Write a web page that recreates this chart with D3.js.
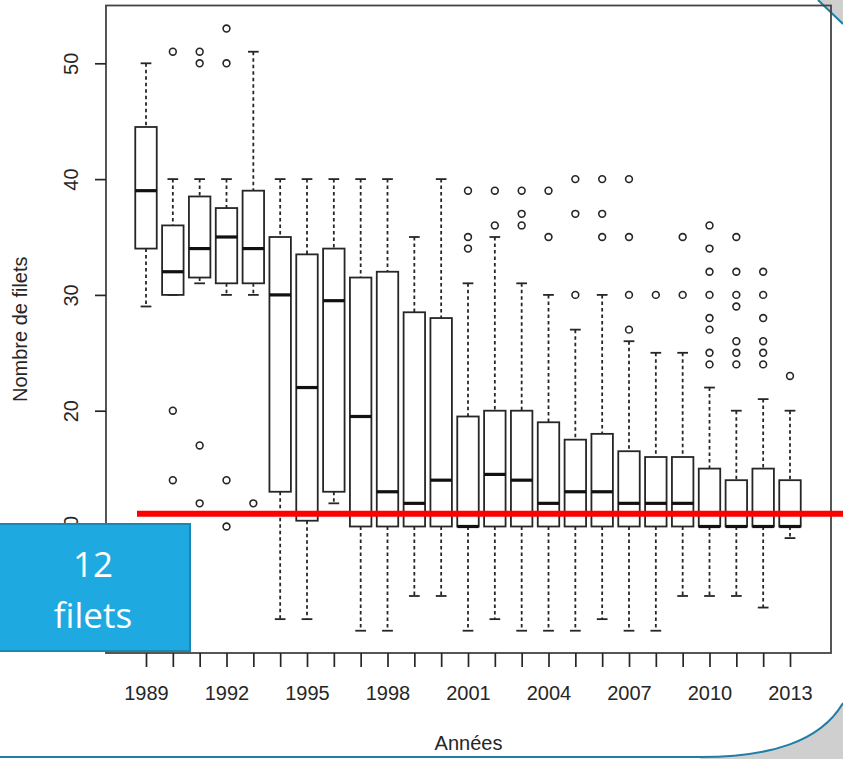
<!DOCTYPE html>
<html>
<head>
<meta charset="utf-8">
<script src="https://d3js.org/d3.v7.min.js"></script>
<style>
  html, body { margin: 0; padding: 0; background: #fff; }
  svg { display: block; }
</style>
</head>
<body>
<script>
// boxplot stats per year
var years = d3.range(1989, 2014);
var whiskerHigh = [50, 40, 40, 40, 51, 40, 40, 40, 40, 40, 35, 40, 31, 35, 31, 30, 27, 30, 26, 25, 25, 22, 20, 21, 20];
var q3 = [44.5, 36, 38.5, 37.5, 39, 35, 33.5, 34, 31.5, 32, 28.5, 28, 19.5, 20, 20, 19, 17.5, 18, 16.5, 16, 16, 15, 14, 15, 14];
var medians = [39, 32, 34, 35, 34, 30, 22, 29.5, 19.5, 13, 12, 14, 10, 14.5, 14, 12, 13, 13, 12, 12, 12, 10, 10, 10, 10];
var q1 = [34, 30, 31.5, 31, 31, 13, 10.5, 13, 10, 10, 10, 10, 10, 10, 10, 10, 10, 10, 10, 10, 10, 10, 10, 10, 10];
var whiskerLow = [29, 30, 31, 30, 30, 2, 2, 12, 1, 1, 4, 4, 1, 2, 1, 1, 1, 2, 1, 1, 4, 4, 4, 3, 9];
var outliers = [
  [], [51, 20, 14], [51, 50, 17, 12], [53, 50, 14, 10], [12],
  [], [], [], [], [], [], [],
  [39, 35, 34], [39, 36], [39, 37, 36], [39, 35], [40, 37, 30], [40, 37, 35],
  [40, 35, 30, 27], [30], [35, 30],
  [36, 34, 32, 30, 28, 27, 25, 24], [35, 32, 30, 29, 26, 25, 24], [32, 30, 28, 26, 25, 24], [23]
];
var yTicks = [0, 10, 20, 30, 40, 50];
var labelYears = [1989, 1992, 1995, 1998, 2001, 2004, 2007, 2010, 2013];
var thresholdValue = 11.1;
var calloutLines = ["12", "filets"];

var width = 843, height = 759;
var frame = { left: 106, right: 831, top: 5.5, bottom: 653 };
var ink = "#262626";
var font = "'Liberation Sans', Arial, sans-serif";

var svg = d3.select("body").append("svg")
  .attr("width", width)
  .attr("height", height);

// slide decoration in the corners
svg.append("path")
  .attr("d", "M700,757 C770,757 820,742 843,703 L843,759 L700,759 Z")
  .attr("fill", "#cfcfcf");
svg.append("path")
  .attr("d", "M0,757 L700,757 C770,757 820,742 843,703")
  .attr("fill", "none")
  .attr("stroke", "#1f7ea6")
  .attr("stroke-width", 2);
svg.append("path")
  .attr("d", "M818,0 L843,0 L843,24 Z")
  .attr("fill", "#cfcfcf");
svg.append("line")
  .attr("x1", 818).attr("y1", 0).attr("x2", 843).attr("y2", 24)
  .attr("stroke", "#1f7ea6")
  .attr("stroke-width", 2);

var x = d3.scaleLinear().domain([1989, 2013]).range([146, 790]);
var y = d3.scaleLinear().domain([0, 50]).range([642.3, 63.3]);
var step = x(1990) - x(1989);
var boxW = step * 0.8;
var stapleW = boxW * 0.5;

// plot frame
svg.append("rect")
  .attr("x", frame.left).attr("y", frame.top)
  .attr("width", frame.right - frame.left)
  .attr("height", frame.bottom - frame.top)
  .attr("fill", "none")
  .attr("stroke", "#444")
  .attr("stroke-width", 1.8);

var yAxis = d3.axisLeft(y).tickValues(yTicks).tickSize(11).tickFormat(d3.format("d"));
var gy = svg.append("g")
  .attr("transform", "translate(" + frame.left + ",0)")
  .call(yAxis);
gy.select(".domain").remove();
gy.selectAll("line").attr("stroke", ink).attr("stroke-width", 1.7);
gy.selectAll("text")
  .attr("transform", "rotate(-90)")
  .attr("x", 0).attr("y", -28).attr("dy", null)
  .attr("text-anchor", "middle")
  .attr("fill", ink)
  .style("font-family", font)
  .style("font-size", "20px");

var xAxis = d3.axisBottom(x).tickValues(years).tickSize(14).tickPadding(19)
  .tickFormat(function(d) { return labelYears.indexOf(d) >= 0 ? d : ""; });
var gx = svg.append("g")
  .attr("transform", "translate(0," + frame.bottom + ")")
  .call(xAxis);
gx.select(".domain").remove();
gx.selectAll("line").attr("stroke", ink).attr("stroke-width", 1.7);
gx.selectAll("text")
  .attr("fill", ink)
  .style("font-family", font)
  .style("font-size", "20px");

// axis titles
svg.append("text")
  .attr("transform", "translate(27," + ((frame.top + frame.bottom) / 2) + ") rotate(-90)")
  .attr("text-anchor", "middle")
  .attr("fill", ink)
  .style("font-family", font)
  .style("font-size", "20px")
  .text("Nombre de filets");

svg.append("text")
  .attr("x", (frame.left + frame.right) / 2)
  .attr("y", 750)
  .attr("text-anchor", "middle")
  .attr("fill", ink)
  .style("font-family", font)
  .style("font-size", "20px")
  .text("Années");

// boxes
var boxes = svg.append("g").selectAll("g")
  .data(years)
  .enter()
  .append("g")
  .attr("transform", function(d) { return "translate(" + x(d) + ",0)"; });

boxes.append("line")
  .attr("x1", 0).attr("x2", 0)
  .attr("y1", function(d, i) { return y(whiskerHigh[i]); })
  .attr("y2", function(d, i) { return y(q3[i]); })
  .attr("stroke", ink).attr("stroke-width", 1.8)
  .attr("stroke-dasharray", "3.5,3");
boxes.append("line")
  .attr("x1", 0).attr("x2", 0)
  .attr("y1", function(d, i) { return y(q1[i]); })
  .attr("y2", function(d, i) { return y(whiskerLow[i]); })
  .attr("stroke", ink).attr("stroke-width", 1.8)
  .attr("stroke-dasharray", "3.5,3");

boxes.append("line")
  .attr("x1", -stapleW / 2).attr("x2", stapleW / 2)
  .attr("y1", function(d, i) { return y(whiskerHigh[i]); })
  .attr("y2", function(d, i) { return y(whiskerHigh[i]); })
  .attr("stroke", ink).attr("stroke-width", 1.8);
boxes.append("line")
  .attr("x1", -stapleW / 2).attr("x2", stapleW / 2)
  .attr("y1", function(d, i) { return y(whiskerLow[i]); })
  .attr("y2", function(d, i) { return y(whiskerLow[i]); })
  .attr("stroke", ink).attr("stroke-width", 1.8);

boxes.append("rect")
  .attr("x", -boxW / 2)
  .attr("width", boxW)
  .attr("y", function(d, i) { return y(q3[i]); })
  .attr("height", function(d, i) { return y(q1[i]) - y(q3[i]); })
  .attr("fill", "#fff")
  .attr("stroke", ink).attr("stroke-width", 1.8);

boxes.append("line")
  .attr("x1", -boxW / 2).attr("x2", boxW / 2)
  .attr("y1", function(d, i) { return y(medians[i]); })
  .attr("y2", function(d, i) { return y(medians[i]); })
  .attr("stroke", "#111").attr("stroke-width", 3.2);

boxes.selectAll("circle")
  .data(function(d, i) { return outliers[i]; })
  .enter()
  .append("circle")
  .attr("cx", 0)
  .attr("cy", function(v) { return y(v); })
  .attr("r", 3.4)
  .attr("fill", "none")
  .attr("stroke", ink)
  .attr("stroke-width", 1.6);

// red threshold line
svg.append("line")
  .attr("x1", 137).attr("x2", width)
  .attr("y1", y(thresholdValue)).attr("y2", y(thresholdValue))
  .attr("stroke", "#ff0000")
  .attr("stroke-width", 6);

// callout box
svg.append("rect")
  .attr("x", -2).attr("y", 524)
  .attr("width", 192).attr("height", 127)
  .attr("fill", "#1fa9e1")
  .attr("stroke", "#1b86b0")
  .attr("stroke-width", 2);

svg.append("g").selectAll("text")
  .data(calloutLines)
  .enter()
  .append("text")
  .attr("x", 93)
  .attr("y", function(d, i) { return 577 + i * 51; })
  .attr("text-anchor", "middle")
  .attr("fill", "#fff")
  .style("font-family", "'Open Sans', 'Noto Sans', sans-serif")
  .style("font-size", "35px")
  .text(function(d) { return d; });
</script>
</body>
</html>
